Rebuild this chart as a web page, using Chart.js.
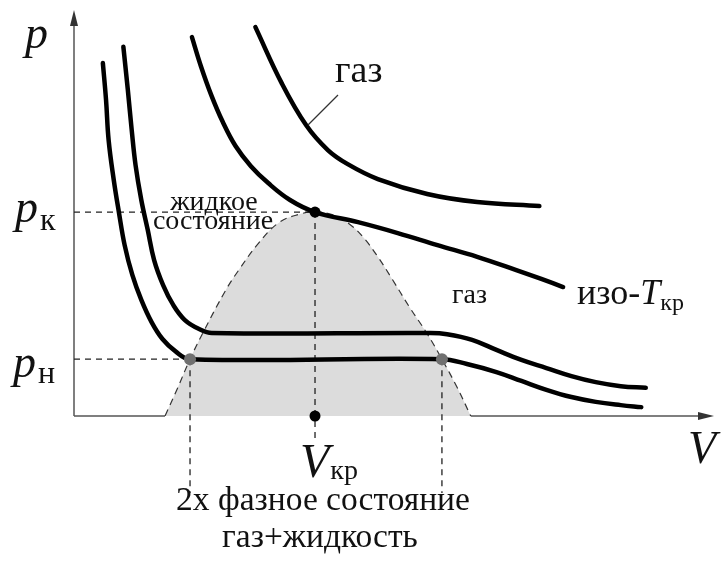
<!DOCTYPE html>
<html>
<head>
<meta charset="utf-8">
<script src="https://cdn.jsdelivr.net/npm/chart.js@4.4.0/dist/chart.umd.min.js"></script>
<style>
  html, body { margin: 0; padding: 0; background: #fff; }
  #wrap { width: 721px; height: 562px; }
</style>
</head>
<body>
<div id="wrap"><canvas id="pv" width="721" height="562"></canvas></div>
<script>
// p-V diagram, arbitrary units (both axes run 0..10)
const pK = 5.06;   // critical pressure
const vK = 3.76;   // critical volume
const pN = 1.41;   // saturation pressure of the lowest isotherm
const vLiq = 1.81; // plateau start (liquid side)
const vGas = 5.74; // plateau end (gas side)

// lowest isotherm (with plateau at pN)
const isoLowV = [0.45, 0.50, 0.54, 0.62, 0.70, 0.79, 0.91, 1.05, 1.21, 1.38, 1.58, 1.81, 5.74, 6.13, 6.59, 6.98, 7.37, 7.76, 8.14, 8.53, 8.85];
const isoLowP = [8.76, 7.84, 6.85, 5.86, 5.06, 4.24, 3.50, 2.88, 2.33, 1.91, 1.61, 1.41, 1.41, 1.29, 1.09, 0.87, 0.65, 0.47, 0.35, 0.27, 0.22];

// second isotherm
const isoMidV = [0.77, 0.84, 0.90, 0.96, 1.05, 1.15, 1.25, 1.39, 1.55, 1.73, 1.95, 2.15, 5.56, 5.82, 6.21, 6.59, 6.98, 7.37, 7.76, 8.14, 8.53, 8.92];
const isoMidP = [9.16, 8.09, 7.10, 6.23, 5.36, 4.62, 3.87, 3.25, 2.75, 2.38, 2.16, 2.06, 2.06, 2.03, 1.89, 1.64, 1.39, 1.19, 0.99, 0.84, 0.74, 0.70];

// critical isotherm (изо-Tкр)
const isoCritV = [1.84, 1.98, 2.14, 2.32, 2.52, 2.76, 3.03, 3.37, 3.76, 4.43, 5.05, 5.67, 6.29, 6.90, 7.29, 7.63];
const isoCritP = [9.40, 8.68, 7.97, 7.30, 6.70, 6.20, 5.78, 5.36, 5.06, 4.81, 4.54, 4.24, 3.95, 3.62, 3.40, 3.20];

// hottest isotherm (газ)
const isoHighV = [2.83, 3.24, 3.62, 3.96, 4.27, 4.74, 5.51, 6.29, 7.26];
const isoHighP = [9.65, 8.26, 7.22, 6.60, 6.25, 5.88, 5.51, 5.31, 5.21];

// two-phase dome
const domeV = [1.42, 1.61, 1.81, 2.01, 2.37, 2.57, 2.88, 3.19, 3.50, 3.76, 4.04, 4.30, 4.52, 4.74, 4.97, 5.23, 5.51, 5.74, 5.98, 6.19];
const domeP = [0.00, 0.67, 1.41, 2.06, 3.13, 3.62, 4.29, 4.79, 5.00, 5.06, 4.99, 4.76, 4.42, 3.95, 3.38, 2.71, 2.04, 1.41, 0.70, 0.00];

const guideLow = -0.67;   // how far the Vкр guide runs below the axis
const guideDeep = -1.91;  // how far the plateau guides run below the axis

const pts = (v, p) => v.map((x, i) => ({ x: x, y: p[i] }));

const SERIF = "'Liberation Serif', 'Times New Roman', serif";

const curve = (v, p) => ({
    data: pts(v, p),
    showLine: true,
    borderColor: '#000',
    borderWidth: 4.5,
    borderCapStyle: 'round',
    borderJoinStyle: 'round',
    pointRadius: 0,
    tension: 0.4,
    fill: false,
    order: 2
});

const guide = (v, p) => ({
    data: pts(v, p),
    showLine: true,
    borderColor: '#222',
    borderWidth: 1.3,
    borderDash: [6, 5],
    pointRadius: 0,
    fill: false,
    clip: false,
    order: 5
});

// axes with arrows, dashed where the dome sits on the V axis
const axesPlugin = {
    id: 'axes',
    beforeDatasetsDraw(chart) {
        const { ctx, chartArea, scales } = chart;
        const x0 = scales.x.getPixelForValue(0);
        const y0 = scales.y.getPixelForValue(0);
        const xEnd = chartArea.right - 1;
        const yTop = chartArea.top - 3;
        const dl = scales.x.getPixelForValue(domeV[0]);
        const dr = scales.x.getPixelForValue(domeV[domeV.length - 1]);
        ctx.save();
        ctx.strokeStyle = '#555';
        ctx.fillStyle = '#333';
        ctx.lineWidth = 1.5;
        ctx.beginPath();
        ctx.moveTo(x0, y0); ctx.lineTo(x0, yTop + 12);
        ctx.moveTo(x0, y0); ctx.lineTo(dl, y0);
        ctx.moveTo(dr, y0); ctx.lineTo(xEnd - 12, y0);
        ctx.stroke();
        // arrow heads
        ctx.beginPath();
        ctx.moveTo(x0, yTop); ctx.lineTo(x0 - 4, yTop + 16); ctx.lineTo(x0 + 4, yTop + 16); ctx.closePath();
        ctx.fill();
        ctx.beginPath();
        ctx.moveTo(xEnd, y0); ctx.lineTo(xEnd - 16, y0 - 4); ctx.lineTo(xEnd - 16, y0 + 4); ctx.closePath();
        ctx.fill();
        ctx.restore();
    },
    afterDatasetsDraw(chart) {
        const { ctx, scales } = chart;
        const px = v => scales.x.getPixelForValue(v);
        const py = p => scales.y.getPixelForValue(p);
        ctx.save();
        ctx.fillStyle = '#111';
        ctx.textBaseline = 'alphabetic';

        const put = (txt, x, y, size, italic, align) => {
            ctx.font = (italic ? 'italic ' : '') + size + 'px ' + SERIF;
            ctx.textAlign = align || 'left';
            ctx.fillText(txt, x, y);
            return ctx.measureText(txt).width;
        };

        // axis names
        put('p', 25, 48, 46, true);
        put('V', 688, py(0) + 47, 46, true);

        // p_к and p_н
        let w = put('p', 15, py(pK) + 10, 46, true);
        put('к', 15 + w + 2, py(pK) + 18, 32, false);
        w = put('p', 13, py(pN) + 18, 46, true);
        put('н', 13 + w + 2, py(pN) + 24, 32, false);

        // V_кр
        w = put('V', px(vK) - 15, py(0) + 61, 48, true);
        put('кр', px(vK) - 15 + w + 1, py(0) + 63, 28, false);

        // region labels
        put('газ', 335, 82, 38, false);
        put('жидкое', 214, py(pK) - 2, 28, false, 'center');
        put('состояние', 213, py(pK) + 17, 28, false, 'center');
        put('газ', 452, 303, 28, false);

        // изо-Tкр
        w = put('изо-', 577, 304, 36, false);
        const w2 = put('T', 577 + w, 304, 36, true);
        put('кр', 577 + w + w2, 310, 24, false);

        // bottom caption
        put('2х фазное состояние', 323, 510, 33.5, false, 'center');
        put('газ+жидкость', 320, 547, 33.5, false, 'center');

        // leader for the upper "газ"
        ctx.strokeStyle = '#333';
        ctx.lineWidth = 1.2;
        ctx.beginPath();
        ctx.moveTo(338, 95);
        ctx.lineTo(308, 125);
        ctx.stroke();
        ctx.restore();
    }
};

new Chart(document.getElementById('pv').getContext('2d'), {
    type: 'scatter',
    data: {
        datasets: [
            // critical point and V_кр mark
            {
                data: [{ x: vK, y: pK }, { x: vK, y: 0 }],
                pointRadius: 5.5,
                pointBackgroundColor: '#000',
                pointBorderWidth: 0,
                clip: false,
                order: 1
            },
            // ends of the plateau
            {
                data: [{ x: vLiq, y: pN }, { x: vGas, y: pN }],
                pointRadius: 6,
                pointBackgroundColor: '#707070',
                pointBorderWidth: 0,
                clip: false,
                order: 1
            },
            curve(isoLowV, isoLowP),
            curve(isoMidV, isoMidP),
            curve(isoCritV, isoCritP),
            curve(isoHighV, isoHighP),
            guide([0, vK], [pK, pK]),
            guide([vK, vK], [pK, guideLow]),
            guide([0, vLiq], [pN, pN]),
            guide([vLiq, vLiq], [pN, guideDeep]),
            guide([vGas, vGas], [pN, guideDeep]),
            // dome
            {
                data: pts(domeV, domeP),
                showLine: true,
                borderColor: '#333',
                borderWidth: 1.2,
                borderDash: [7, 5],
                backgroundColor: '#dcdcdc',
                fill: 'origin',
                pointRadius: 0,
                tension: 0.4,
                order: 10
            }
        ]
    },
    options: {
        responsive: false,
        animation: false,
        events: [],
        layout: { padding: { left: 74, right: 1, top: 13, bottom: 146 } },
        scales: {
            x: { type: 'linear', min: 0, max: 10, display: false },
            y: { type: 'linear', min: 0, max: 10, display: false }
        },
        plugins: {
            legend: { display: false },
            tooltip: { enabled: false }
        }
    },
    plugins: [axesPlugin]
});
</script>
</body>
</html>
